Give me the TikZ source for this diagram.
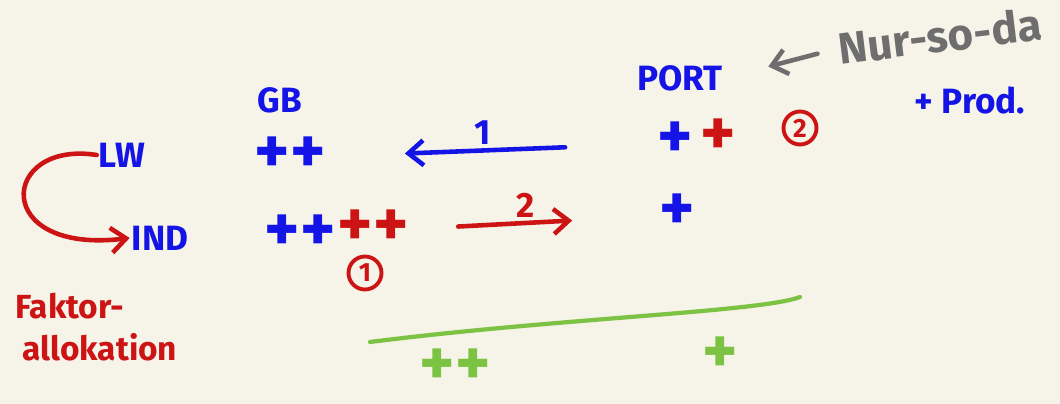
\documentclass[tikz,border=0pt]{standalone}
\usepackage{fontspec}
\setmainfont{Fira Sans}
\usepackage{tikz}
\usetikzlibrary{
  arrows.meta,
  positioning,
}
\definecolor{paper}{HTML}{F6F3E8}
\definecolor{penBlue}{HTML}{1414E6}
\definecolor{penRed}{HTML}{CC1414}
\definecolor{penGrey}{HTML}{6E6E6E}
\definecolor{penGreen}{HTML}{7CC243}
\tikzset{
  ink/.style={
    inner sep=1pt, text=#1, font=\fontsize{20}{22}\selectfont\bfseries,
  },
  inkSmall/.style={
    ink=#1, font=\fontsize{19}{21}\selectfont\bfseries, align=left,
  },
  plusMark/.style={
    inner sep=0pt, text=#1, font=\fontsize{38}{38}\selectfont\bfseries,
    text height=0.62cm, text depth=0pt,
  },
  circNum/.style={
    circle, draw=penRed, line width=2.2pt, text=penRed, inner sep=0pt,
    minimum size=0.66cm, font=\fontsize{15}{15}\selectfont\bfseries,
  },
  arrowBlue/.style={
    -{Straight Barb[length=3mm,width=5mm]}, line width=2.6pt, draw=penBlue,
    line cap=round,
  },
  arrowRed/.style={
    -{Straight Barb[length=3mm,width=5mm]}, line width=2.6pt, draw=penRed,
    line cap=round,
  },
  arrowGrey/.style={
    -{Straight Barb[length=3mm,width=5mm]}, line width=2.6pt, draw=penGrey,
    line cap=round,
  },
  sumLine/.style={
    line width=2.4pt, draw=penGreen, line cap=round,
  },
}

\begin{document}
\begin{tikzpicture}[x=0.02cm, y=-0.02cm, node distance=4mm]

\fill[paper] (0,0) rectangle (1060,404);
\useasboundingbox (0,0) rectangle (1060,404);

% column heads
\node[ink=penBlue] (gb) at (280,100) {GB};
\node[ink=penBlue] (port) at (680,78) {PORT};
\node[ink=penGrey, font=\fontsize{25}{27}\selectfont\bfseries, rotate=7]
  (nsd) at (940,36) {Nur-so-da};
\node[ink=penBlue] (prod) at (970,100) {+ Prod.};

% row heads
\node[ink=penBlue] (lw) at (122,155) {LW};
\node[ink=penBlue] (ind) at (160,238) {IND};

% entries
\node[plusMark=penBlue] (gbLw) at (290,158) {++};
\node[plusMark=penBlue] (gbInd) at (300,236) {++};
\node[plusMark=penRed, right=1pt of gbInd, yshift=0.1cm] (gbIndNew) {++};
\node[circNum] (numOne) at (365,273) {1};

\node[plusMark=penBlue] (portLw) at (675,143) {+};
\node[plusMark=penRed, right=4pt of portLw, yshift=0.05cm] (portLwNew) {+};
\node[circNum] (numTwo) at (800,128) {2};
\node[plusMark=penBlue] (portInd) at (677,215) {+};

\node[inkSmall=penRed] (fak) at (70,306) {Faktor-};
\node[inkSmall=penRed] (allo) at (100,347) {allokation};

% totals
\coordinate (sumL) at (370,342);
\coordinate (sumR) at (800,297);
\node[plusMark=penGreen] (sumGb) at (455,370) {++};
\node[plusMark=penGreen] (sumPort) at (720,358) {+};

\draw[arrowBlue, shorten <=2.2cm, shorten >=2.3cm]
  (portLw.center) -- node[midway, above=1pt, ink=penBlue] (one) {1} (gbLw.center);
\draw[arrowRed, shorten <=1.7cm, shorten >=2.1cm]
  (gbIndNew.center) -- node[midway, above=1pt, ink=penRed] (two) {2} (portInd.center);
\draw[arrowRed] (lw.west) .. controls (0,140) and (-10,255) .. (ind.west);
\draw[arrowGrey, shorten <=0.4cm, shorten >=0.9cm] (nsd.west) -- (port.east);
\draw[sumLine] (sumL) .. controls (560,318) and (760,312) .. (sumR);

\end{tikzpicture}
\end{document}
